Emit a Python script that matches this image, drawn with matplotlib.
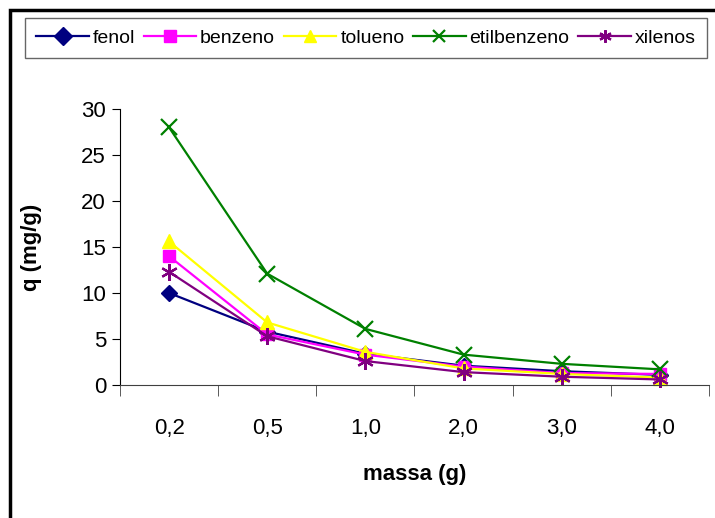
import matplotlib
matplotlib.use("Agg")
import matplotlib.pyplot as plt
from matplotlib.patches import Rectangle

plt.rcParams['font.family'] = ['Liberation Sans', 'DejaVu Sans']

massa = ["0,2", "0,5", "1,0", "2,0", "3,0", "4,0"]
fenol = [10.0, 5.8, 3.4, 2.1, 1.5, 1.1]
benzeno = [14.0, 5.5, 3.3, 2.0, 1.3, 1.2]
tolueno = [15.6, 6.8, 3.6, 1.8, 1.2, 0.8]
etilbenzeno = [28.0, 12.1, 6.1, 3.3, 2.3, 1.7]
xilenos = [12.3, 5.3, 2.6, 1.4, 0.9, 0.6]

series = [
    ("fenol", fenol, "#000080", "D", 8, 1.0),
    ("benzeno", benzeno, "#FF00FF", "s", 9, 1.0),
    ("tolueno", tolueno, "#FFFF00", "^", 10, 1.0),
    ("etilbenzeno", etilbenzeno, "#008000", "x", 11, 1.6),
    ("xilenos", xilenos, "#800080", (6, 2, 0), 12, 1.6),
]

fig = plt.figure(figsize=(7.15, 5.18), dpi=100)
ax = fig.add_axes([120/715, 1-385/518, (709-120)/715, (385-109)/518])

x = list(range(len(massa)))
handles = []
for name, vals, col, mk, ms, mew in series:
    h, = ax.plot(x, vals, color=col, lw=1.6, marker=mk, markersize=ms,
                 markeredgewidth=mew, markerfacecolor=col, markeredgecolor=col,
                 label=name, clip_on=False)
    handles.append(h)

ax.set_xlim(-0.5, len(massa) - 0.5)
ax.set_ylim(0, 30)
ax.set_yticks(range(0, 31, 5))
ax.set_xticks(x)
ax.set_xticklabels(massa)
ax.set_xticks([i - 0.5 for i in range(len(massa) + 1)], minor=True)
ax.tick_params(axis='x', which='major', length=0, pad=24, labelsize=16)
ax.tick_params(axis='x', which='minor', length=8, direction='out', color='#404040')
ax.tick_params(axis='y', length=6, direction='out', labelsize=16, pad=4)

for s in ['top', 'right']:
    ax.spines[s].set_visible(False)
ax.spines['left'].set_color('black')
ax.spines['bottom'].set_color('#404040')

ax.set_xlabel("massa (g)", fontsize=16, fontweight='bold', labelpad=18)
ax.set_ylabel("q (mg/g)", fontsize=16, fontweight='bold', labelpad=28)

leg = fig.legend(handles=handles, loc='center', ncol=5,
                 bbox_to_anchor=(366/715, 1-38/518),
                 fontsize=14, frameon=True, fancybox=False,
                 handlelength=2.7, handletextpad=0.2, columnspacing=0.45,
                 borderpad=0.6, borderaxespad=0)
leg.get_frame().set_edgecolor('#404040')
leg.get_frame().set_linewidth(1.0)
for lh in leg.legend_handles:
    lh.set_markersize(9)

fig.patches.append(Rectangle((10/715, -0.1), 1.2, 1-10/518 + 0.1,
                             transform=fig.transFigure, fill=False,
                             edgecolor='black', linewidth=2.5))

fig.savefig("out.png", dpi=100)
